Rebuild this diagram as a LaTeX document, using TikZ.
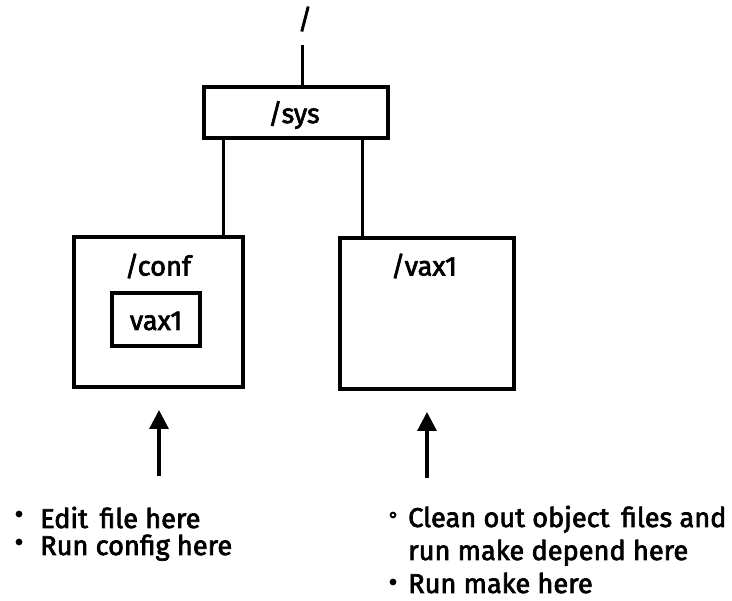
\documentclass[tikz,border=0pt]{standalone}
\usepackage{fontspec}
\setmainfont{Fira Sans}[FakeBold=2.5]
\usetikzlibrary{arrows.meta}
\begin{document}
\begin{tikzpicture}[x=1pt,y=-1pt,
  txt/.style={font=\fontsize{27.2}{30}\selectfont, inner sep=0pt},
  dirbox/.style={draw, line width=3.2pt, inner sep=0pt},
  conn/.style={line width=3pt},
  uparrow/.style={line width=3.2pt, -{Triangle[length=19pt,width=19pt]}},
  dot/.style={fill=black, draw=none}
]
\useasboundingbox (0,0) rectangle (732,601);

% root
\node[txt] (root) at (305,19) {/};
\coordinate (stem) at (302,45);

% /sys
\node[dirbox, minimum width=184pt, minimum height=51pt] (sys) at (296,112.5) {};
\node[txt] (systxt) at (294,115) {/sys};

% /conf with vax1
\node[dirbox, minimum width=169pt, minimum height=150pt] (conf) at (158.5,312) {};
\node[txt] (conftxt) at (158,266) {/conf};
\node[dirbox, minimum width=88pt, minimum height=53pt] (inner) at (156,319.5) {};
\node[txt] (innertxt) at (156,321) {vax1};

% /vax1
\node[dirbox, minimum width=174pt, minimum height=151pt] (vax) at (427,313.5) {};
\node[txt] (vaxtxt) at (424,266) {/vax1};

% connectors
\draw[conn] (stem) -- (stem |- sys.north);
\coordinate (lx) at (223,0);
\coordinate (rx) at (362,0);
\draw[conn] (lx |- sys.south) -- (lx |- conf.north);
\draw[conn] (rx |- sys.south) -- (rx |- vax.north);

% arrows
\coordinate (la0) at (159,476);
\coordinate (la1) at (159,410);
\coordinate (ra0) at (427,478);
\coordinate (ra1) at (427,412);
\draw[uparrow] (la0) -- (la1);
\draw[uparrow] (ra0) -- (ra1);

% left notes
\fill[dot] (19,514) circle (3.4pt);
\fill[dot] (19,542) circle (3.4pt);
\node[txt, anchor=base west] (l1) at (40,528) {Edit\, file here};
\node[txt, anchor=base west] (l2) at (40,555) {Run config here};

% right notes
\draw[line width=1.8pt] (393,515) circle (2.4pt);
\fill[dot] (393,582) circle (3.4pt);
\node[txt, anchor=base west] (r1) at (408,527) {Clean out object\, files and};
\node[txt, anchor=base west] (r2) at (408,560) {run make depend here};
\node[txt, anchor=base west] (r3) at (408,593) {Run make here};
\end{tikzpicture}
\end{document}
